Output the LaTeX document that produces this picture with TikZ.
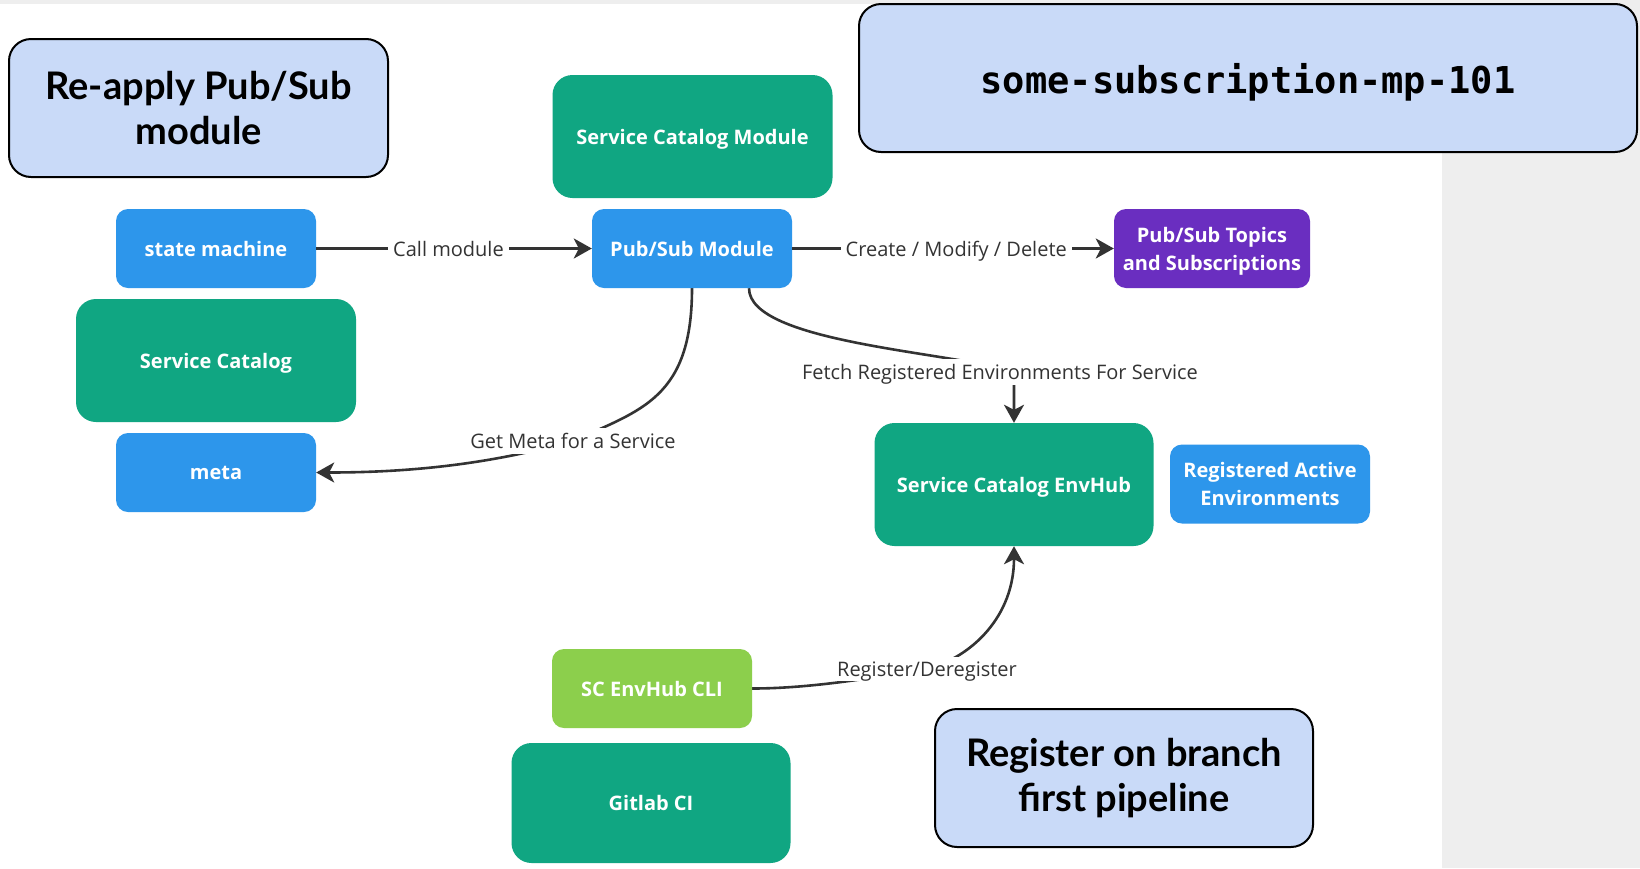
\documentclass[tikz,border=0pt]{standalone}
\usepackage{fontspec}
\setmainfont{Open Sans}
\newfontfamily\calloutfont{Lato}
\newfontfamily\codefont{DejaVu Sans Mono}
\usetikzlibrary{arrows.meta}
\pgfdeclarelayer{slide}
\pgfdeclarelayer{wires}
\pgfsetlayers{slide,wires,main}

\definecolor{scgreen}{RGB}{16,166,130}
\definecolor{scblue}{RGB}{45,150,235}
\definecolor{scpurple}{RGB}{106,46,192}
\definecolor{sclime}{RGB}{140,207,76}
\definecolor{notefill}{RGB}{201,218,248}
\definecolor{panelgray}{RGB}{238,238,238}
\definecolor{wirecol}{RGB}{51,51,51}

\tikzset{
  box/.style={rounded corners=12pt, inner sep=0pt, text=white, align=center,
    font=\fontsize{20}{28}\selectfont\bfseries, text depth=0pt,
    minimum width=200pt, minimum height=79pt},
  bigbox/.style={box, rounded corners=20pt, minimum width=280pt, minimum height=123pt},
  note/.style={draw=black, line width=2pt, fill=notefill, rounded corners=22pt,
    align=center, inner sep=0pt,
    font=\calloutfont\fontsize{38}{45}\selectfont\bfseries},
  lbl/.style={fill=white, inner xsep=5pt, inner ysep=5pt, text=wirecol,
    text depth=0pt, font=\fontsize{20}{24}\selectfont},
  wire/.style={draw=wirecol, line width=2.6pt},
  tip/.style={-{Stealth[length=18pt,width=20pt,inset=5pt]}},
}

\begin{document}
\begin{tikzpicture}[x=1pt,y=-1pt]
\useasboundingbox (0,0) rectangle (1640,868);
% slide background: grey top strip and right-hand panel
\begin{pgfonlayer}{slide}
\fill[white] (0,0) rectangle (1640,868);
\fill[panelgray] (0,0) rectangle (1640,4);
\fill[panelgray] (1442,0) rectangle (1640,868);
\end{pgfonlayer}

% callouts
\node[note, minimum width=379pt, minimum height=138pt] (reapply) at (198.5,108)
  {Re-apply Pub/Sub\\module};
\node[note, minimum width=778pt, minimum height=148pt, text depth=0pt] (subname) at (1248,78)
  {\codefont\fontsize{37}{45}\selectfont\bfseries some-subscription-mp-101};
\node[note, minimum width=378pt, minimum height=138pt] (branch) at (1124,778)
  {Register on branch\\first pipeline};

% components
\node[bigbox, fill=scgreen] (scm) at (692.5,136.5) {Service Catalog Module};
\node[box, fill=scblue] (ps) at (692,248.5) {Pub/Sub Module};
\node[box, fill=scblue] (sm) at (216,248.5) {state machine};
\node[bigbox, fill=scgreen] (sc) at (216,360.5) {Service Catalog};
\node[box, fill=scblue] (meta) at (216,472.5) {meta};
\node[box, fill=scpurple, minimum width=196pt] (topics) at (1212,248.5)
  {Pub/Sub Topics\\and Subscriptions};
\node[bigbox, fill=scgreen, minimum width=279pt] (envhub) at (1014,484.5) {Service Catalog EnvHub};
\node[box, fill=scblue] (rae) at (1270,484) {Registered Active\\Environments};
\node[box, fill=sclime] (cli) at (652,688.5) {SC EnvHub CLI};
\node[bigbox, fill=scgreen, minimum width=279pt, minimum height=120pt] (gitlab) at (651,803) {Gitlab CI};

% connector labels
\node[lbl] (lmeta) at (573,441) {Get Meta for a Service};
\node[lbl] (lfetch) at (1000,372) {Fetch Registered Environments For Service};
\node[lbl] (lreg) at (927,669) {Register/Deregister};

% straight connectors
\draw[wire, tip] (sm.east) -- node[lbl, pos=0.48] (lcall) {Call module} (ps.west);
\draw[wire, tip] (ps.east) -- node[lbl, pos=0.51] (lcmd) {Create / Modify / Delete} (topics.west);

% curved connectors, kept beneath their labels
\begin{pgfonlayer}{wires}
\draw[wire, tip] (ps.south)
  .. controls +(0,110) and +(68,-31) .. (lmeta.center)
  .. controls +(-80,22) and +(100,0) .. (meta.east);
\draw[wire, tip] ([xshift=57pt]ps.south)
  .. controls +(0,55) and +(-60,-20) .. (lfetch.center -| envhub.north)
  -- (envhub.north);
\draw[wire, tip] (cli.east)
  .. controls +(60,0) and +(-50,8) .. (lreg.center)
  .. controls +(45,-12) and +(0,70) .. (envhub.south);
\end{pgfonlayer}
\end{tikzpicture}
\end{document}
